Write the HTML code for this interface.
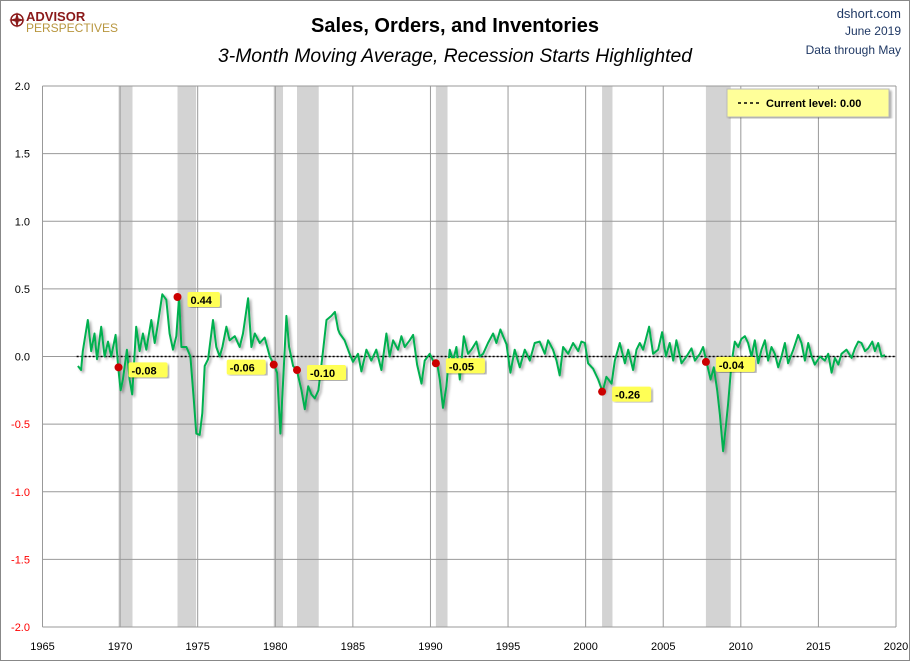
<!DOCTYPE html>
<html><head><meta charset="utf-8"><style>
body{margin:0;background:#fff;}
svg{display:block;font-family:"Liberation Sans",sans-serif;}
</style></head><body>
<svg width="910" height="661" viewBox="0 0 910 661">
<defs>
<filter id="sh" x="-5%" y="-5%" width="110%" height="110%"><feDropShadow dx="2" dy="2" stdDeviation="1.2" flood-color="#000" flood-opacity="0.35"/></filter>
</defs>
<rect x="0.5" y="0.5" width="909" height="660" fill="#fff" stroke="#888"/>
<g id="plot"></g>
<g>
<circle cx="17" cy="20" r="6" fill="none" stroke="#8b1a1a" stroke-width="1.5"/>
<path d="M17 12 L19 20 L17 28 L15 20Z M9 20 L17 18 L25 20 L17 22Z" fill="#8b1a1a"/>
<text x="26" y="21" font-size="13" font-weight="bold" fill="#8b1a1a">ADVISOR</text>
<text x="26" y="32" font-size="12" fill="#b8963e">PERSPECTIVES</text>
</g>
<text x="455" y="32" text-anchor="middle" font-size="20" font-weight="bold" fill="#000">Sales, Orders, and Inventories</text>
<text x="455" y="62" text-anchor="middle" font-size="19" font-style="italic" fill="#000" textLength="474" lengthAdjust="spacingAndGlyphs">3-Month Moving Average, Recession Starts Highlighted</text>
<text x="901" y="18" text-anchor="end" font-size="13" fill="#1f3864">dshort.com</text>
<text x="901" y="35" text-anchor="end" font-size="12" fill="#1f3864">June 2019</text>
<text x="901" y="54" text-anchor="end" font-size="12" fill="#1f3864">Data through May</text>
<g filter="url(#sh)">
<rect x="727" y="89" width="162" height="28" fill="#ffff99" stroke="#bbb"/>
</g>
<line x1="738" y1="103" x2="760" y2="103" stroke="#000" stroke-width="1.5" stroke-dasharray="3,3"/>
<text x="766" y="107" font-size="11" font-weight="bold">Current level: 0.00</text>
</svg>
<script>
const years=[1967.28,1967.49,1967.60,1967.92,1968.14,1968.35,1968.51,1968.78,1969.0,1969.22,1969.43,1969.71,1969.88,1970.03,1970.18,1970.44,1970.61,1970.78,1971.04,1971.26,1971.47,1971.69,1972.01,1972.23,1972.38,1972.72,1972.98,1973.19,1973.41,1973.62,1973.80,1973.95,1974.27,1974.53,1974.74,1974.91,1975.13,1975.30,1975.45,1975.67,1975.99,1976.20,1976.42,1976.59,1976.85,1977.06,1977.39,1977.71,1977.92,1978.25,1978.46,1978.68,1979.0,1979.32,1979.65,1979.92,1980.12,1980.33,1980.51,1980.72,1980.89,1981.15,1981.39,1981.69,1981.90,1982.12,1982.33,1982.55,1982.78,1983.04,1983.30,1983.62,1983.84,1984.05,
1984.15,1984.47,1984.79,1985.01,1985.33,1985.55,1985.87,1986.19,1986.51,1986.84,1987.16,1987.37,1987.59,1987.91,1988.13,1988.34,1988.66,1988.88,1989.14,1989.42,1989.63,1989.95,1990.21,1990.43,1990.6,1990.81,1991.03,1991.24,1991.46,1991.67,1991.89,1992.15,1992.42,1992.64,1992.96,1993.18,1993.39,1993.71,1994.04,1994.25,1994.51,1994.68,1994.9,1995.15,1995.43,1995.76,1996.08,1996.4,1996.72,1997.04,1997.37,1997.58,1997.9,1998.12,1998.33,1998.55,1998.87,1999.19,1999.52,1999.73,1999.95,2000.16,2000.48,2000.81,2001.09,2001.34,2001.67,2001.88,2002.2,2002.53,2002.74,2003.06,2003.28,
2003.49,2003.7,2004.09,2004.35,2004.67,2004.93,2005.17,2005.42,2005.64,2005.85,2006.18,2006.5,2006.82,2007.04,2007.36,2007.57,2007.79,2008.05,2008.26,2008.48,2008.65,2008.86,2009.03,2009.18,2009.4,2009.61,2009.83,2010.04,2010.26,2010.47,2010.69,2010.9,2011.12,2011.33,2011.55,2011.76,2011.98,2012.19,2012.41,2012.62,2012.84,2013.05,2013.38,2013.7,2013.91,2014.13,2014.34,2014.56,2014.77,2015.1,2015.42,2015.63,2015.85,2016.06,2016.28,2016.49,2016.81,2017.14,2017.35,2017.57,2017.78,2018.0,2018.21,2018.47,2018.64,2018.85,2019.07,2019.29];
const values=[-0.07,-0.10,0.04,0.27,0.04,0.17,-0.02,0.22,0.0,0.11,0.0,0.16,-0.08,-0.25,-0.17,0.05,-0.17,-0.28,0.22,0.04,0.17,0.05,0.27,0.10,0.20,0.46,0.42,0.17,0.05,0.15,0.44,0.07,0.07,0.0,-0.30,-0.57,-0.58,-0.42,-0.07,-0.02,0.27,0.07,0.0,0.07,0.22,0.12,0.15,0.07,0.17,0.43,0.07,0.17,0.10,0.14,0.0,-0.06,-0.12,-0.57,-0.17,0.30,0.07,-0.07,-0.10,-0.25,-0.39,-0.22,-0.28,-0.31,-0.25,0.0,0.27,0.30,0.33,0.20,
0.17,0.12,0.02,-0.04,0.02,-0.11,0.05,-0.03,0.05,-0.10,0.17,0.0,0.12,0.05,0.15,0.07,0.12,0.16,-0.06,-0.20,-0.03,0.02,-0.04,-0.05,-0.17,-0.38,-0.22,0.05,-0.03,0.07,-0.17,0.15,0.02,0.05,0.11,0.0,0.02,0.10,0.17,0.10,0.20,0.15,0.09,-0.12,0.05,-0.08,0.05,-0.03,0.10,0.11,0.02,0.12,0.05,-0.03,-0.14,0.07,0.02,0.10,0.04,0.11,0.10,-0.05,-0.09,-0.17,-0.26,-0.15,-0.20,-0.03,0.10,-0.05,0.05,-0.10,0.05,
0.10,0.05,0.22,0.02,0.05,0.18,0.0,0.10,-0.03,0.12,-0.05,0.0,0.06,-0.03,0.02,0.07,-0.04,-0.17,-0.08,-0.25,-0.43,-0.70,-0.52,-0.35,-0.05,0.11,0.07,0.13,0.15,0.10,0.0,0.12,-0.05,0.05,0.12,-0.03,0.07,0.02,-0.08,0.0,0.10,-0.05,0.05,0.16,0.10,-0.03,0.10,0.0,-0.06,0.0,-0.03,0.02,-0.12,-0.01,-0.06,0.02,0.05,-0.01,0.06,0.11,0.10,0.04,0.06,0.11,0.04,0.10,0.0,0.01];
const recStart=[1969.9,1973.7,1979.9,1981.4,1990.35,2001.06,2007.75];
const recEnd=[1970.8,1974.9,1980.5,1982.8,1991.1,2001.73,2009.35];
const markerValues=[-0.08,0.44,-0.06,-0.10,-0.05,-0.26,-0.04];
const yTicks=[2.0,1.5,1.0,0.5,0.0,-0.5,-1.0,-1.5,-2.0];
const xTicks=[1965,1970,1975,1980,1985,1990,1995,2000,2005,2010,2015,2020];

const L=42.5,R=896,T=86,B=627;
const xs=y=>L+(y-1965)/55*(R-L);
const ys=v=>T+(2-v)/4*(B-T);
const NS="http://www.w3.org/2000/svg";
const g=document.getElementById('plot');
function mk(tag,attrs,parent){const e=document.createElementNS(NS,tag);for(const k in attrs)e.setAttribute(k,attrs[k]);(parent||g).appendChild(e);return e;}

recStart.forEach((s,i)=>{
  const r=mk('rect',{x:xs(s),y:T,width:xs(recEnd[i])-xs(s),height:B-T,fill:'#d3d3d3'});
  
  
});
yTicks.forEach(v=>{
  const l=mk('line',{x1:L,x2:R,y1:ys(v),y2:ys(v),stroke:'#999','stroke-width':1});
  
  
  const t=mk('text',{x:30,y:ys(v)+4,'text-anchor':'end','font-size':11,fill:v<0?'#ff0000':'#000'});
  t.textContent=v.toFixed(1);
  
  
});
xTicks.forEach(y=>{
  const l=mk('line',{x1:xs(y),x2:xs(y),y1:T,y2:B,stroke:'#999','stroke-width':1});
  
  
  const t=mk('text',{x:xs(y),y:650,'text-anchor':'middle','font-size':11,fill:'#000'});
  t.textContent=y;
  
  
});
const zl=mk('line',{x1:xs(1967.2),x2:R,y1:ys(0),y2:ys(0),stroke:'#000','stroke-width':1.5,'stroke-dasharray':'2,2'});



let d='';years.forEach((y,i)=>{d+=(i?'L':'M')+xs(y).toFixed(1)+' '+ys(values[i]).toFixed(1);});
const p=mk('path',{d:d,fill:'none',stroke:'#00b050','stroke-width':2,'stroke-linejoin':'round',filter:'url(#sh)'});



recStart.forEach((s,i)=>{
  const v=markerValues[i];
  const cx=xs(s),cy=ys(v);
  const txt=v.toFixed(2);
  const w=txt.length*6.6+6;
  const left=(i===2);
  const lx=left?cx-w-8:cx+10;
  const ly=cy-2;
  const bg=mk('rect',{x:lx,y:ly-3,width:w,height:15,fill:'#ffff55',rx:2,filter:'url(#sh)'});
  
  
  const t=mk('text',{x:lx+3,y:ly+9,'font-size':11,'font-weight':'bold',fill:'#000'});
  t.textContent=txt;
  
  
  const c=mk('circle',{cx:cx,cy:cy,r:4,fill:'#cc0000'});
  
  
});
</script>
</body></html>
